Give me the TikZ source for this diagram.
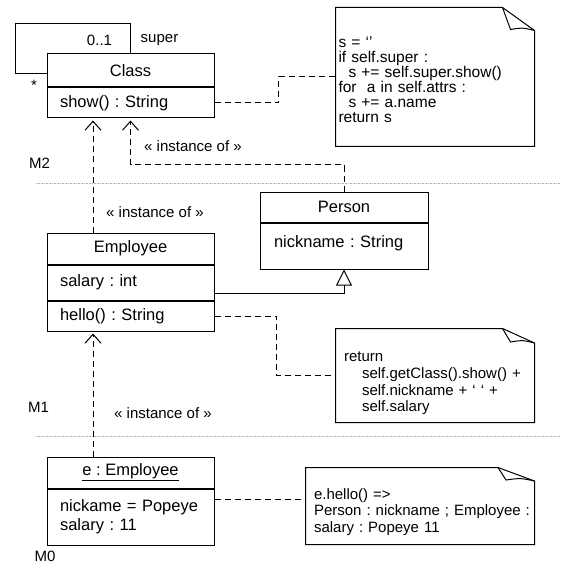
\documentclass[tikz,border=0pt]{standalone}
\usepackage{fontspec}
\setmainfont{Liberation Sans}
\usetikzlibrary{positioning,arrows.meta}

\tikzset{
  umlhead/.style={draw, minimum width=167pt, inner sep=0pt, font=\fontsize{16.5}{19}\selectfont},
  umlpart/.style={umlhead, text width=141pt, inner xsep=13pt, align=left},
  note/.style={inner ysep=0pt, align=left, font=\fontsize{15}{16.7}\selectfont},
  lbl/.style={inner sep=0pt, font=\fontsize{15}{18}\selectfont},
  link/.style={dash pattern=on 6pt off 4pt},
  inst/.style={link, -{Straight Barb[length=9pt,width=16pt]}, shorten >=2pt},
  gen/.style={-{Triangle[open,length=16pt,width=16pt]}},
  sepline/.style={black!30, line width=0.6pt, densely dotted}
}

% note outline with folded corner: node, fold width, fold height
\newcommand\notebox[3]{%
  \draw (#1.north west) -- ([xshift=-#2]#1.north east) -- ([yshift=-#3]#1.north east)
    -- (#1.south east) -- (#1.south west) -- cycle;
  \draw ([xshift=-#2]#1.north east) -- ([xshift=-#2+8pt,yshift=-#3+1pt]#1.north east)
    .. controls ([xshift=-#2/2+4pt,yshift=-#3+3pt]#1.north east) .. ([yshift=-#3]#1.north east);
}

\begin{document}
\frenchspacing
\begin{tikzpicture}[x=1pt, y=-1pt, line width=1pt]
    \useasboundingbox (0,0) rectangle (561,564);

    % Level separators
    \draw[sepline] (36,183) -- (561,183);
    \draw[sepline] (36,436) -- (561,436);
    \node[lbl] (m2) at (39.5,163) {M2};
    \node[lbl] (m1) at (38.5,407) {M1};
    \node[lbl] (m0) at (45,556) {M0};

    % M2
    \node[umlhead, minimum height=33pt] (clshd) at (130.5,70.5) {Class};
    \node[umlpart, minimum height=30pt, below=0pt of clshd] (clsops) {show() : String};

    % M1
    \node[umlhead, minimum height=31pt] (emphd) at (130.5,248.5) {Employee};
    \node[umlpart, minimum height=35pt, below=0pt of emphd] (empattr) {salary : int};
    \node[umlpart, minimum height=30pt, below=0pt of empattr] (empops) {hello() : String};

    \node[umlhead, minimum width=168pt, minimum height=30pt] (perhd) at (344,207) {Person};
    \node[umlpart, minimum width=168pt, text width=140pt, inner xsep=14pt, minimum height=46pt,
          text depth=8pt, below=0pt of perhd] (perattr) {nickname : String};

    % M0
    \node[umlhead, minimum height=31pt] (ehd) at (130.5,472.5) {\underline{e : Employee}};
    \node[umlpart, minimum height=56pt, below=0pt of ehd] (eattr) {nickame = Popeye\\salary : 11};

    % Self association
    \draw (clshd.north) -- ++(0,-30) -| ([xshift=-31pt,yshift=-3.5pt]clshd.west) -- ([yshift=-3.5pt]clshd.west);
    \node[lbl] (mult1) at (99.5,40) {0..1};
    \node[lbl] (role) at (159.5,40) {super};
    \node[lbl] (mult2) at (34,85) {*};

    % Instance of
    \draw[inst] ([xshift=-37.5pt]emphd.north) -- ([xshift=-37.5pt]clsops.south);
    \draw[inst] (perhd.north) -- ++(0,-27) -| (clsops.south);
    \draw[inst] ([xshift=-37.5pt]ehd.north) -- ([xshift=-37.5pt]empops.south);
    \node[lbl] (inst1) at (155,212) {« instance of »};
    \node[lbl] (inst2) at (193,146) {« instance of »};
    \node[lbl] (inst3) at (163,413) {« instance of »};

    % Inheritance
    \draw[gen] ([yshift=-11pt]empattr.east) -| (perattr.south);

    % Notes
    \node[note, minimum width=198pt, minimum height=138pt, inner xsep=2.5pt, text width=193pt,
          text height=17pt, font=\fontsize{15.5}{15}\selectfont] (note1) at (435,77)
          {s = ‘’\\if self.super :\\\hspace*{10pt}s += self.super.show()\\for~~a in self.attrs :\\\hspace*{10pt}s += a.name\\return s};
    \notebox{note1}{32pt}{23pt}
    \draw[link] (clsops.east) -- ++(64,0) |- (note1.west);

    \node[note, minimum width=198pt, minimum height=93pt, inner xsep=8pt, text width=182pt,
          text height=26pt] (note2) at (435,375.5)
          {return\\\hspace*{18pt}self.getClass().show() +\\\hspace*{18pt}self.nickname + ‘ ‘ +\\\hspace*{18pt}self.salary};
    \notebox{note2}{32pt}{14.5pt}
    \draw[link] (empops.east) -- ++(62,0) |- (note2.west);

    \node[note, minimum width=228pt, minimum height=76pt, inner xsep=8pt, text width=212pt,
          text height=22.6pt] (note3) at (420,506)
          {e.hello() =>\\\mbox{Person : nickname ; Employee :}\\salary : Popeye 11};
    \notebox{note3}{36.5pt}{13.5pt}
    \draw[link] ([yshift=18pt]eattr.east) coordinate (eout) -- (eout -| note3.west);
\end{tikzpicture}
\end{document}
